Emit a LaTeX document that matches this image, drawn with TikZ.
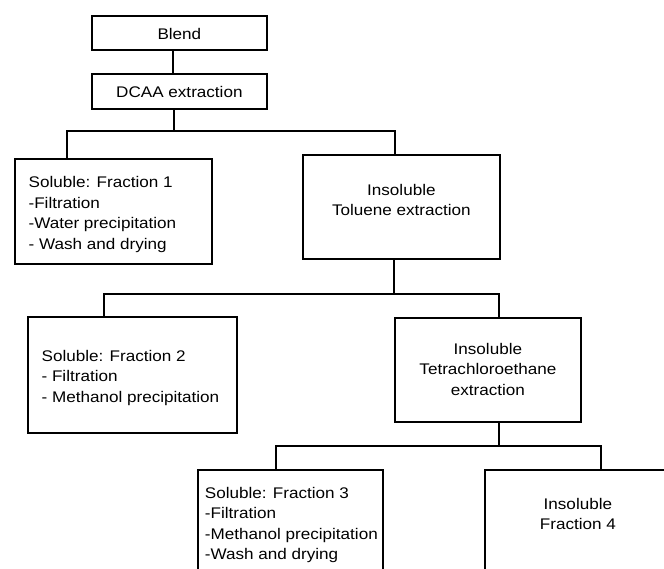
\documentclass[tikz,border=0pt]{standalone}
\usepackage{fontspec}
\setmainfont{Liberation Sans}[FakeStretch=1.11]
\newcommand\boxtxt[5]{%
  \parbox[c][#2][t]{#1}{\fontsize{15.4pt}{20.5pt}\selectfont #4\vspace*{#3}\strut #5\par}}
\begin{document}
\begin{tikzpicture}[x=1pt,y=-1pt,
  bx/.style={draw, line width=1.8pt, inner sep=0pt, anchor=north west},
  conn/.style={draw, line width=1.8pt}]
\useasboundingbox (0,0) rectangle (664,568);
\clip (0,0) rectangle (664,568);
% boxes
\node[bx] (blend) at (91,15) {\boxtxt{175pt}{34pt}{8.95pt}{\centering}{Blend}};
\node[bx] (dcaa) at (91,73) {\boxtxt{175pt}{35pt}{9.35pt}{\centering}{DCAA extraction}};
\node[bx] (f1) at (14,158) {\boxtxt{197pt}{105pt}{14.35pt}{\raggedright\leftskip=13.7pt}{Soluble: Fraction 1\\-Filtration\\-Water precipitation\\- Wash and drying}};
\node[bx] (tol) at (302,154) {\boxtxt{197pt}{104pt}{25.95pt}{\centering}{Insoluble\\Toluene extraction}};
\node[bx] (f2) at (27,316) {\boxtxt{209pt}{116pt}{30.15pt}{\raggedright\leftskip=13.7pt}{Soluble: Fraction 2\\- Filtration\\- Methanol precipitation}};
\node[bx] (tetra) at (394,317) {\boxtxt{186pt}{104pt}{22.15pt}{\centering}{Insoluble\\Tetrachloroethane\\extraction}};
\node[bx] (f3) at (197,469) {\boxtxt{185pt}{130pt}{14.15pt}{\raggedright\leftskip=7pt}{Soluble: Fraction 3\\-Filtration\\-Methanol precipitation\\-Wash and drying}};
\node[bx] (f4) at (484,469) {\boxtxt{186pt}{130pt}{25.15pt}{\centering}{Insoluble\\Fraction 4}};
% junction coordinates
\coordinate (s0) at (173,0);
\coordinate (s1) at (174,131);
\coordinate (b1l) at (67,131);
\coordinate (b1r) at (395,131);
\coordinate (s2) at (394,294);
\coordinate (b2l) at (104,294);
\coordinate (b2r) at (499,294);
\coordinate (s3) at (499,446);
\coordinate (b3l) at (276,446);
\coordinate (b3r) at (601,446);
% connectors
\draw[conn] (blend.south -| s0) -- (dcaa.north -| s0);
\draw[conn] (dcaa.south -| s1) -- (s1);
\draw[conn] (f1.north -| b1l) -- (b1l) -- (b1r) -- (tol.north -| b1r);
\draw[conn] (tol.south -| s2) -- (s2);
\draw[conn] (f2.north -| b2l) -- (b2l) -- (b2r) -- (tetra.north -| b2r);
\draw[conn] (tetra.south -| s3) -- (s3);
\draw[conn] (f3.north -| b3l) -- (b3l) -- (b3r) -- (f4.north -| b3r);
\end{tikzpicture}
\end{document}
